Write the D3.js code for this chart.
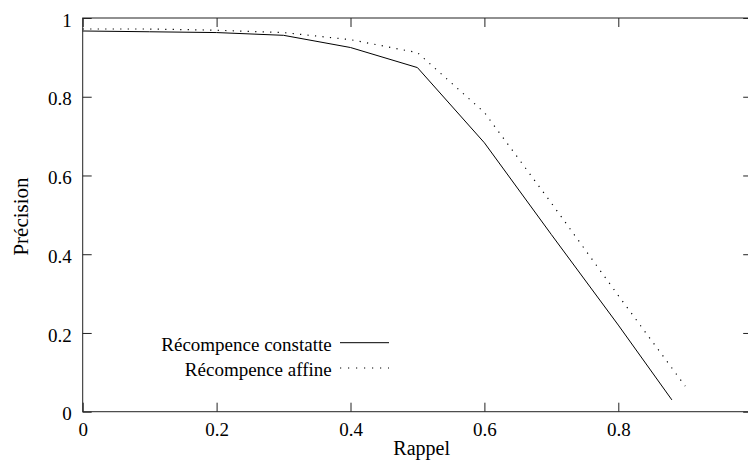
<!DOCTYPE html>
<html>
<head>
<meta charset="utf-8">
<script src="https://cdn.jsdelivr.net/npm/d3@7"></script>
<style>
  html, body { margin: 0; padding: 0; background: #fff; }
  svg { display: block; font-family: "Liberation Serif", "Times New Roman", serif; }
</style>
</head>
<body>
<svg id="chart" width="748" height="463"></svg>
<script>
// Precision / recall curves for the two reward schemes
const recallConstant = [0, 0.1, 0.2, 0.3, 0.4, 0.5, 0.6, 0.7, 0.8, 0.88];
const precisionConstant = [0.967, 0.965, 0.963, 0.956, 0.925, 0.874, 0.683, 0.45, 0.22, 0.03];

const recallAffine = [0, 0.1, 0.2, 0.3, 0.4, 0.5, 0.6, 0.7, 0.8, 0.9];
const precisionAffine = [0.972, 0.972, 0.969, 0.963, 0.945, 0.912, 0.76, 0.53, 0.295, 0.065];

const xTicks = [0, 0.2, 0.4, 0.6, 0.8];
const yTicks = [0, 0.2, 0.4, 0.6, 0.8, 1];
const seriesNames = ["Récompence constatte", "Récompence affine"];
const xTitle = "Rappel";
const yTitle = "Précision";

const svg = d3.select("#chart");
const plotLeft = 82.7, plotRight = 752.2, plotTop = 18, plotBottom = 411.7;

const x = d3.scaleLinear().domain([0, 1]).range([plotLeft, plotRight]);
const y = d3.scaleLinear().domain([0, 1]).range([plotBottom, plotTop]);

const axisColor = "#222";
const fmt = d => d === 0 ? "0" : d === 1 ? "1" : d3.format(".1f")(d);

// inward ticks on all four sides
const gBottom = svg.append("g").attr("transform", `translate(0,${plotBottom})`)
  .call(d3.axisBottom(x).tickValues(xTicks).tickSize(-9).tickPadding(11).tickFormat(fmt));
const gLeft = svg.append("g").attr("transform", `translate(${plotLeft},0)`)
  .call(d3.axisLeft(y).tickValues(yTicks).tickSize(-9).tickPadding(11).tickFormat(fmt));
const gTop = svg.append("g").attr("transform", `translate(0,${plotTop})`)
  .call(d3.axisTop(x).tickValues(xTicks).tickSize(-9).tickFormat(""));
const gRight = svg.append("g").attr("transform", `translate(${plotRight},0)`)
  .call(d3.axisRight(y).tickValues(yTicks).tickSize(-9).tickFormat(""));

[gBottom, gLeft, gTop, gRight].forEach(g => {
  g.attr("font-family", null);
  g.select(".domain").remove();
  g.selectAll(".tick line").attr("stroke", axisColor).attr("stroke-width", 1);
  g.selectAll(".tick text").attr("fill", "#000").style("font-size", "19px")
    .style("font-family", "'Liberation Serif', 'Times New Roman', serif");
});
gLeft.selectAll(".tick text").attr("dy", "0.43em");
gBottom.selectAll(".tick text").attr("dy", "0.71em");

// plot frame
svg.append("rect")
  .attr("x", plotLeft).attr("y", plotTop)
  .attr("width", plotRight - plotLeft).attr("height", plotBottom - plotTop)
  .attr("fill", "none").attr("stroke", axisColor).attr("stroke-width", 1);

// curves
const line = d3.line().x(d => x(d[0])).y(d => y(d[1]));
const constData = recallConstant.map((r, i) => [r, precisionConstant[i]]);
const affineData = recallAffine.map((r, i) => [r, precisionAffine[i]]);

svg.append("path").datum(constData).attr("d", line)
  .attr("fill", "none").attr("stroke", "#000").attr("stroke-width", 1);
svg.append("path").datum(affineData).attr("d", line)
  .attr("fill", "none").attr("stroke", "#000").attr("stroke-width", 1.2)
  .attr("stroke-dasharray", "1.2,6.3");

// legend
const legend = [
  { name: seriesNames[0], dash: null, w: 1 },
  { name: seriesNames[1], dash: "1.2,6.8", w: 1.2 }
];
legend.forEach((l, i) => {
  const by = 350.7 + i * 25.3;
  svg.append("text").attr("x", 331.7).attr("y", by)
    .attr("text-anchor", "end").style("font-size", "19px").text(l.name);
  const ln = svg.append("line").attr("x1", 340).attr("x2", 389)
    .attr("y1", by - 8).attr("y2", by - 8)
    .attr("stroke", "#000").attr("stroke-width", l.w);
  if (l.dash) ln.attr("stroke-dasharray", l.dash);
});

// axis titles
svg.append("text").attr("x", 421.7).attr("y", 455)
  .attr("text-anchor", "middle").style("font-size", "20px").text(xTitle);
svg.append("text")
  .attr("transform", `translate(28,216.5) rotate(-90)`)
  .attr("text-anchor", "middle").style("font-size", "21px").text(yTitle);
</script>
</body>
</html>
